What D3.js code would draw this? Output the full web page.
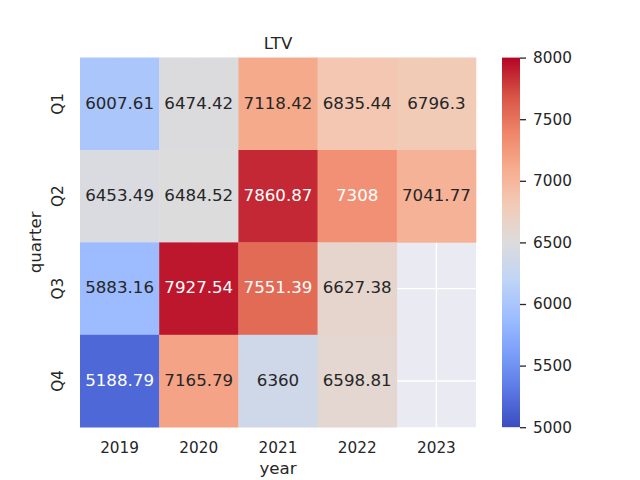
<!DOCTYPE html>
<html><head><meta charset="utf-8">
<script src="https://cdn.jsdelivr.net/npm/d3@7"></script>
<style>body{margin:0;background:#fff}svg{display:block}text{font-family:"DejaVu Sans",sans-serif}</style>
</head><body><svg id="c" width="640" height="480"></svg>
<script>
const years = ["2019","2020","2021","2022","2023"];
const quarters = ["Q1","Q2","Q3","Q4"];
const q1 = [6007.61, 6474.42, 7118.42, 6835.44, 6796.3];
const q2 = [6453.49, 6484.52, 7860.87, 7308, 7041.77];
const q3 = [5883.16, 7927.54, 7551.39, 6627.38, null];
const q4 = [5188.79, 7165.79, 6360, 6598.81, null];
const rows = [q1, q2, q3, q4];
const cbTicks = [5000, 5500, 6000, 6500, 7000, 7500, 8000];
const vmin = 5000, vmax = 8000;
const coolwarm = ["#3b4cc0","#5a78e4","#7b9ff9","#9ebeff","#c0d4f5","#dddcdc","#f2cbb7","#f7ac8e","#ee8468","#d65244","#b40426"];

const svg = d3.select("#c");
const L = 80, R = 476, T = 57.6, B = 427.2;
const x = d3.scaleBand().domain(years).range([L, R]);
const y = d3.scaleBand().domain(quarters).range([T, B]);
const color = d3.scaleLinear().domain(d3.range(11).map(i => vmin + (vmax - vmin) * i / 10)).range(coolwarm).interpolate(d3.interpolateRgb).clamp(true);

// axes background + grid
svg.append("rect").attr("x", L).attr("y", T).attr("width", R - L).attr("height", B - T).attr("fill", "#eaeaf2");
svg.selectAll(".gx").data(years).enter().append("line")
  .attr("x1", d => x(d) + x.bandwidth()/2).attr("x2", d => x(d) + x.bandwidth()/2)
  .attr("y1", T).attr("y2", B).attr("stroke", "#fff").attr("stroke-width", 1.4);
svg.selectAll(".gy").data(quarters).enter().append("line")
  .attr("y1", d => y(d) + y.bandwidth()/2).attr("y2", d => y(d) + y.bandwidth()/2)
  .attr("x1", L).attr("x2", R).attr("stroke", "#fff").attr("stroke-width", 1.4);

const cells = [];
rows.forEach((r, i) => r.forEach((v, j) => { if (v !== null) cells.push({q: quarters[i], yr: years[j], v}); }));

function lum(c) {
  const rgb = d3.rgb(c);
  const f = u => { u /= 255; return u <= 0.03928 ? u / 12.92 : Math.pow((u + 0.055) / 1.055, 2.4); };
  return 0.2126 * f(rgb.r) + 0.7152 * f(rgb.g) + 0.0722 * f(rgb.b);
}

svg.selectAll(".cell").data(cells).enter().append("rect")
  .attr("x", d => x(d.yr)).attr("y", d => y(d.q))
  .attr("width", x.bandwidth() + 0.3).attr("height", y.bandwidth() + 0.3)
  .attr("fill", d => color(d.v));
svg.selectAll(".ann").data(cells).enter().append("text")
  .attr("x", d => x(d.yr) + x.bandwidth()/2).attr("y", d => y(d.q) + y.bandwidth()/2 + 4.7)
  .attr("text-anchor", "middle").attr("font-size", "16.67px")
  .attr("fill", d => lum(color(d.v)) > 0.408 ? "#262626" : "#ffffff")
  .text(d => String(d.v));

// tick labels
svg.selectAll(".xt").data(years).enter().append("text")
  .attr("x", d => x(d) + x.bandwidth()/2).attr("y", 452.5)
  .attr("text-anchor", "middle").attr("font-size", "15.28px").attr("fill", "#262626").text(d => d);
svg.selectAll(".yt").data(quarters).enter().append("text")
  .attr("transform", d => `translate(63,${y(d) + y.bandwidth()/2}) rotate(-90)`)
  .attr("text-anchor", "middle").attr("font-size", "15.28px").attr("fill", "#262626").text(d => d);

svg.append("text").attr("x", (L + R)/2).attr("y", 474).attr("text-anchor", "middle")
  .attr("font-size", "16.67px").attr("fill", "#262626").text("year");
svg.append("text").attr("transform", `translate(41,${(T + B)/2}) rotate(-90)`).attr("text-anchor", "middle")
  .attr("font-size", "16.67px").attr("fill", "#262626").text("quarter");
svg.append("text").attr("x", (L + R)/2).attr("y", 48.5).attr("text-anchor", "middle")
  .attr("font-size", "16.67px").attr("fill", "#262626").text("LTV");

// colorbar
const cbX = 502, cbW = 18;
const cy = d3.scaleLinear().domain([vmin, vmax]).range([B, T]);
const defs = svg.append("defs");
const grad = defs.append("linearGradient").attr("id", "cb").attr("x1", 0).attr("y1", 1).attr("x2", 0).attr("y2", 0);
d3.range(0, 1.0001, 0.02).forEach(t => grad.append("stop").attr("offset", t).attr("stop-color", color(vmin + t * (vmax - vmin))));
svg.append("rect").attr("x", cbX).attr("y", T).attr("width", cbW).attr("height", B - T).attr("fill", "url(#cb)");
const cbAxis = d3.axisRight(cy).tickValues(cbTicks).tickSize(6).tickPadding(7).tickFormat(d3.format("d"));
const ga = svg.append("g").attr("transform", `translate(${cbX + cbW},0)`).call(cbAxis);
ga.select(".domain").remove();
ga.selectAll("line").attr("stroke", "#262626").attr("stroke-width", 1.3);
ga.selectAll("text").attr("font-size", "15.28px").attr("fill", "#262626").attr("font-family", "DejaVu Sans");
</script></body></html>
